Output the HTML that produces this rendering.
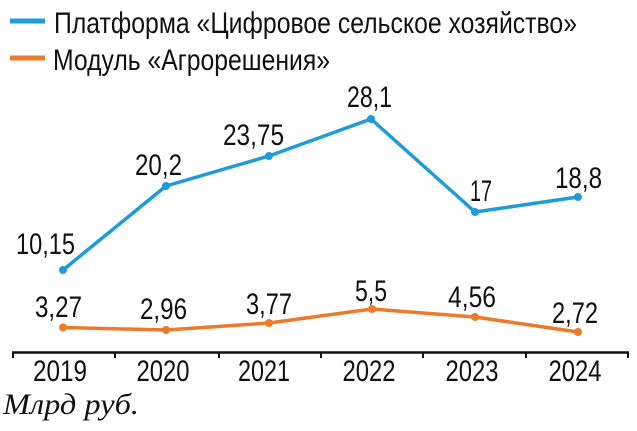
<!DOCTYPE html>
<html><head><meta charset="utf-8"><style>
html,body{margin:0;padding:0;background:#fff;}
svg{display:block;}
text{font-family:"Liberation Sans",sans-serif;fill:#111;}
</style></head><body>
<svg width="637" height="431" viewBox="0 0 637 431" xmlns="http://www.w3.org/2000/svg">
<!-- legend -->
<line x1="10" y1="21" x2="45" y2="21" stroke="#1e9bd9" stroke-width="5"/>
<line x1="10" y1="58" x2="45" y2="58" stroke="#ec7a2a" stroke-width="5"/>
<text x="54" y="33" font-size="30" textLength="523" lengthAdjust="spacingAndGlyphs">Платформа «Цифровое сельское хозяйство»</text>
<text x="53" y="70" font-size="30" textLength="277" lengthAdjust="spacingAndGlyphs">Модуль «Агрорешения»</text>

<!-- axis -->
<line x1="12" y1="352.5" x2="629" y2="352.5" stroke="#111" stroke-width="2.5"/>
<g stroke="#111" stroke-width="2">
<line x1="13" y1="352" x2="13" y2="358"/>
<line x1="115" y1="352" x2="115" y2="358"/>
<line x1="219" y1="352" x2="219" y2="358"/>
<line x1="321" y1="352" x2="321" y2="358"/>
<line x1="423" y1="352" x2="423" y2="358"/>
<line x1="526" y1="352" x2="526" y2="358"/>
<line x1="628" y1="352" x2="628" y2="358"/>
</g>
<g font-size="30" text-anchor="middle">
<text x="60" y="381" textLength="54" lengthAdjust="spacingAndGlyphs">2019</text>
<text x="163" y="381" textLength="53" lengthAdjust="spacingAndGlyphs">2020</text>
<text x="264" y="381" textLength="52" lengthAdjust="spacingAndGlyphs">2021</text>
<text x="369" y="381" textLength="53" lengthAdjust="spacingAndGlyphs">2022</text>
<text x="472" y="381" textLength="53" lengthAdjust="spacingAndGlyphs">2023</text>
<text x="575" y="381" textLength="53" lengthAdjust="spacingAndGlyphs">2024</text>
</g>
<text x="3" y="414" font-size="30" font-style="italic" style="font-family:'Liberation Serif',serif" textLength="136" lengthAdjust="spacingAndGlyphs">Млрд руб.</text>

<!-- blue series -->
<polyline points="63,270 166,186 269,156 371,119 475,212 578,197" fill="none" stroke="#1e9bd9" stroke-width="3.5" stroke-linejoin="round"/>
<g fill="#1e9bd9">
<circle cx="63" cy="270" r="4"/><circle cx="166" cy="186" r="4"/><circle cx="269" cy="156" r="4"/>
<circle cx="371" cy="119" r="4"/><circle cx="475" cy="212" r="4"/><circle cx="578" cy="197" r="4"/>
</g>
<!-- orange series -->
<polyline points="63,327.5 166,330 269,323 372,309 475,317 578,332" fill="none" stroke="#ec7a2a" stroke-width="3.5" stroke-linejoin="round"/>
<g fill="#ec7a2a">
<circle cx="63" cy="327.5" r="4"/><circle cx="166" cy="330" r="4"/><circle cx="269" cy="323" r="4"/>
<circle cx="372" cy="309" r="4"/><circle cx="475" cy="317" r="4"/><circle cx="578" cy="332" r="4"/>
</g>

<!-- data labels -->
<g font-size="30">
<text x="16" y="254" textLength="59" lengthAdjust="spacingAndGlyphs">10,15</text>
<text x="135" y="175" textLength="47" lengthAdjust="spacingAndGlyphs">20,2</text>
<text x="223" y="145" textLength="61" lengthAdjust="spacingAndGlyphs">23,75</text>
<text x="347" y="107" textLength="45" lengthAdjust="spacingAndGlyphs">28,1</text>
<text x="470" y="201" textLength="22" lengthAdjust="spacingAndGlyphs">17</text>
<text x="555" y="188" textLength="47" lengthAdjust="spacingAndGlyphs">18,8</text>

<text x="35" y="317" textLength="47" lengthAdjust="spacingAndGlyphs">3,27</text>
<text x="140" y="319" textLength="47" lengthAdjust="spacingAndGlyphs">2,96</text>
<text x="246" y="314" textLength="46" lengthAdjust="spacingAndGlyphs">3,77</text>
<text x="355" y="301" textLength="32" lengthAdjust="spacingAndGlyphs">5,5</text>
<text x="448" y="307" textLength="48" lengthAdjust="spacingAndGlyphs">4,56</text>
<text x="552" y="323" textLength="46" lengthAdjust="spacingAndGlyphs">2,72</text>
</g>
</svg>
</body></html>
